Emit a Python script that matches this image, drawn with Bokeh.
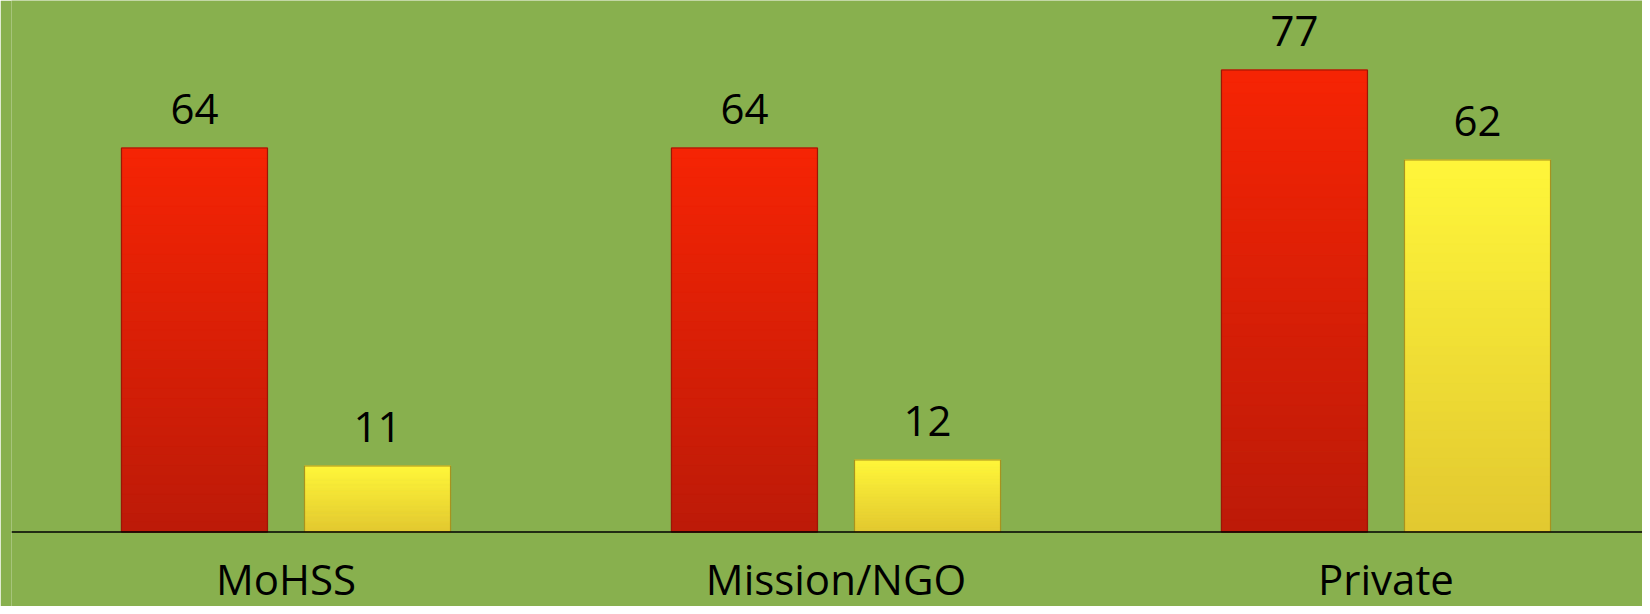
import numpy as np
from bokeh.plotting import figure
from bokeh.models import Range1d, Span, ColumnDataSource
from bokeh.core.properties import value
from bokeh.embed import file_html
from bokeh.resources import INLINE

# ---- data ----
categories = ["MoHSS", "Mission/NGO", "Private"]
series_red = [64, 64, 77]
series_yellow = [11, 12, 62]

# ---- style ----
BG = "#88B04E"
FONT = "Open Sans"
BAR_W = 0.2655
OFFSET = 0.1664
N_BANDS = 40

red_top, red_bot = (246, 36, 4), (188, 26, 8)
yel_top, yel_bot = (255, 246, 58), (226, 200, 48)


def hexc(c):
    return "#%02x%02x%02x" % tuple(int(round(v)) for v in c)


def bands(vals, off, ctop, cbot):
    L, R, B, T, C = [], [], [], [], []
    for i, v in enumerate(vals):
        for k in range(N_BANDS):
            f0, f1 = k / N_BANDS, (k + 1) / N_BANDS
            L.append(i + off - BAR_W / 2)
            R.append(i + off + BAR_W / 2)
            B.append(v * f0)
            T.append(v * f1)
            t = (k + 0.5) / N_BANDS
            C.append(hexc([cb + (ct - cb) * t for ct, cb in zip(ctop, cbot)]))
    return ColumnDataSource(dict(left=L, right=R, bottom=B, top=T, color=C))


W, H = 1642, 606
p = figure(width=W, height=H, output_backend="svg", toolbar_location=None,
           x_range=Range1d(-0.4991, 2.4664), y_range=Range1d(-12.417, 88.583),
           min_border_left=11, min_border_right=0, min_border_top=0,
           min_border_bottom=0)
p.background_fill_color = BG
p.border_fill_color = BG
p.outline_line_color = None
p.grid.visible = False
p.axis.visible = False

for vals, off, ct, cb, lc in [(series_red, -OFFSET, red_top, red_bot, "#9c1606"),
                              (series_yellow, OFFSET, yel_top, yel_bot, "#a8921e")]:
    src = bands(vals, off, ct, cb)
    p.quad(left="left", right="right", bottom="bottom", top="top", source=src,
           fill_color="color", line_color="color", line_width=1)
    xs = [i + off for i in range(len(vals))]
    p.vbar(x=xs, top=vals, width=BAR_W, bottom=0, fill_color=None,
           line_color=lc, line_width=1.2)
    p.text(x=xs, y=vals, text=[str(v) for v in vals], text_align="center",
           text_baseline="middle", y_offset=-39,
           text_font=value(FONT), text_font_size="42px", text_color="black")

p.add_layout(Span(location=0, dimension="width", line_color="black", line_width=1.5))

# category labels under the baseline
p.text(x=list(range(len(categories))), y=[0] * len(categories), text=categories,
       text_align="center", text_baseline="middle", y_offset=47,
       text_font=value(FONT), text_font_size="42px", text_color="black")

open("out.html", "w").write(file_html(p, INLINE))
